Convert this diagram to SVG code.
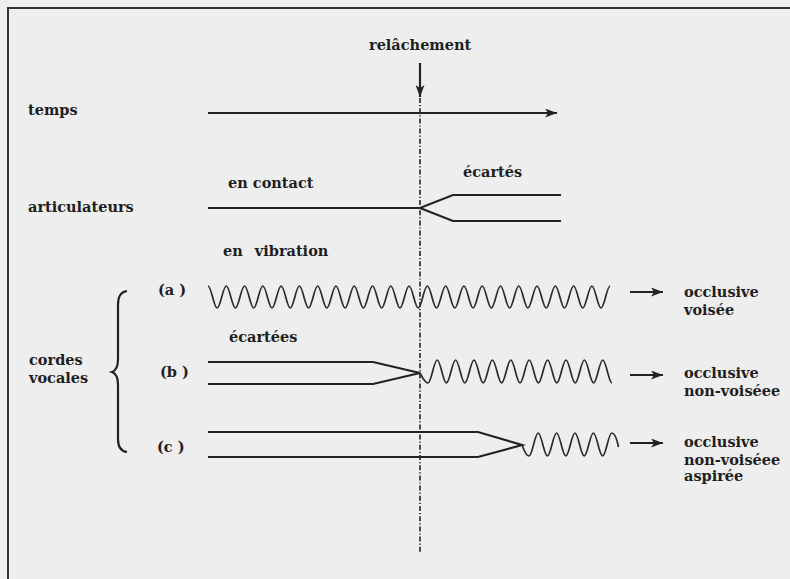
<svg xmlns="http://www.w3.org/2000/svg" width="790" height="579" viewBox="0 0 790 579">
  <defs>
    <style>
      .t { font-family: "DejaVu Serif", "Liberation Serif", serif; font-weight: bold; font-size: 14.5px; fill: #1e1e1e; }
      .ln { fill: none; stroke: #222; stroke-width: 2.2; stroke-linejoin: miter; }
      .wv { fill: none; stroke: #2a2a2a; stroke-width: 1.7; }
      .frame { fill: none; stroke: #333; stroke-width: 2; }
      .dd { fill: none; stroke: #222; stroke-width: 1.6; stroke-dasharray: 5 2 1.2 2; }
    </style>
    <marker id="ah" viewBox="0 0 12 9" refX="12" refY="4.5" markerWidth="12" markerHeight="9" markerUnits="userSpaceOnUse" orient="auto">
      <path d="M0,0 L12,4.5 L0,9 L3,4.5 Z" fill="#222"/>
    </marker>
  </defs>

  <rect x="0" y="0" width="790" height="579" fill="#eeeeee"/>
  <path class="frame" d="M790,8 H8 V579"/>

  <g id="releasemark">
    <text class="t" x="369" y="50">relâchement</text>
    <path class="dd" d="M420,98 V552"/>
  </g>

  <g id="temps">
    <text class="t" x="28" y="115">temps</text>
  </g>

  <g id="articulateurs">
    <text class="t" x="28" y="212">articulateurs</text>
    <text class="t" x="228" y="188">en contact</text>
    <text class="t" x="463" y="177">écartés</text>
    <path class="ln" d="M208,208 H420 L453,195 H561 M420,208 L453,221 H561"/>
  </g>

  <g id="cordes">
    <text class="t" x="29" y="365">cordes</text>
    <text class="t" x="29" y="383">vocales</text>
    <path class="ln" d="M127,291 Q118,292 118,305 V359 Q118,370 112,372 Q118,374 118,385 V439 Q118,451 127,452"/>
    <text class="t" x="223" y="256" word-spacing="7">en vibration</text>
    <text class="t" x="229" y="342">écartées</text>
  </g>

  <g id="case-a">
    <text class="t" x="158" y="295">(a )</text>
    <path class="wv" d="M208,286 c3.32,0 5.82,22 9.14,22 s5.82,-22 9.14,-22 s5.82,22 9.14,22 s5.82,-22 9.14,-22 s5.82,22 9.14,22 s5.82,-22 9.14,-22 s5.82,22 9.14,22 s5.82,-22 9.14,-22 s5.82,22 9.14,22 s5.82,-22 9.14,-22 s5.82,22 9.14,22 s5.82,-22 9.14,-22 s5.82,22 9.14,22 s5.82,-22 9.14,-22 s5.82,22 9.14,22 s5.82,-22 9.14,-22 s5.82,22 9.14,22 s5.82,-22 9.14,-22 s5.82,22 9.14,22 s5.82,-22 9.14,-22 s5.82,22 9.14,22 s5.82,-22 9.14,-22 s5.82,22 9.14,22 s5.82,-22 9.14,-22 s5.82,22 9.14,22 s5.82,-22 9.14,-22 s5.82,22 9.14,22 s5.82,-22 9.14,-22 s5.82,22 9.14,22 s5.82,-22 9.14,-22 s5.82,22 9.14,22 s5.82,-22 9.14,-22 s5.82,22 9.14,22 s5.82,-22 9.14,-22 s5.82,22 9.14,22 s5.82,-22 9.14,-22 s5.82,22 9.14,22 s5.82,-22 9.14,-22 s5.82,22 9.14,22 s5.82,-22 9.14,-22 s5.82,22 9.14,22 s5.82,-22 9.14,-22 s5.82,22 9.14,22 s5.82,-22 9.14,-22"/>
    <text class="t" x="684" y="297">occlusive</text>
    <text class="t" x="684" y="315">voisée</text>
  </g>

  <g id="case-b">
    <text class="t" x="160" y="377">(b )</text>
    <path class="ln" d="M208,362 H373 L420,373 L373,384 H208"/>
    <path class="wv" d="M420,373 C423,379 425.5,383 428,383 c3.34,0 5.86,-23 9.2,-23 s5.86,23 9.2,23 s5.86,-23 9.2,-23 s5.86,23 9.2,23 s5.86,-23 9.2,-23 s5.86,23 9.2,23 s5.86,-23 9.2,-23 s5.86,23 9.2,23 s5.86,-23 9.2,-23 s5.86,23 9.2,23 s5.86,-23 9.2,-23 s5.86,23 9.2,23 s5.86,-23 9.2,-23 s5.86,23 9.2,23 s5.86,-23 9.2,-23 s5.86,23 9.2,23 s5.86,-23 9.2,-23 s5.86,23 9.2,23 s5.86,-23 9.2,-23 s5.86,23 9.2,23"/>
    <text class="t" x="684" y="378">occlusive</text>
    <text class="t" x="684" y="396">non-voiséee</text>
  </g>

  <g id="case-c">
    <text class="t" x="157" y="452">(c )</text>
    <path class="ln" d="M208,432 H478 L522,445 L478,457 H208"/>
    <path class="wv" d="M522,445 C524.5,452 527,456 529,456 c3.34,0 5.86,-23 9.2,-23 s5.86,23 9.2,23 s5.86,-23 9.2,-23 s5.86,23 9.2,23 s5.86,-23 9.2,-23 s5.86,23 9.2,23 s5.86,-23 9.2,-23 s5.86,23 9.2,23 s5.86,-23 9.2,-23 c3.3,0 5.5,8 6.7,14"/>
    <text class="t" x="684" y="447">occlusive</text>
    <text class="t" x="684" y="465">non-voiséee</text>
    <text class="t" x="684" y="481">aspirée</text>
  </g>

  <g id="connectors">
    <path class="ln" d="M420,63 V97" marker-end="url(#ah)"/>
    <path class="ln" d="M208,113 H557" marker-end="url(#ah)"/>
    <path class="ln" d="M630,292 H663" marker-end="url(#ah)"/>
    <path class="ln" d="M630,375 H663" marker-end="url(#ah)"/>
    <path class="ln" d="M630,443 H663" marker-end="url(#ah)"/>
  </g>
</svg>
